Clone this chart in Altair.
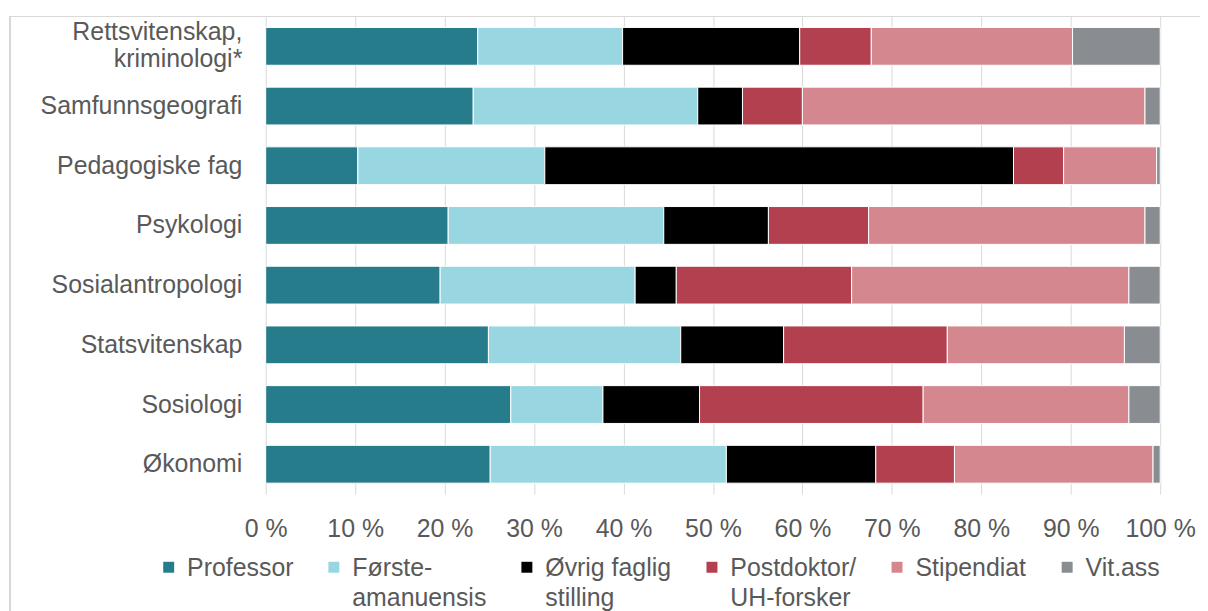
import altair as alt
import pandas as pd

categories = ["Rettsvitenskap, kriminologi*", "Samfunnsgeografi", "Pedagogiske fag", "Psykologi",
              "Sosialantropologi", "Statsvitenskap", "Sosiologi", "Økonomi"]
series = ["Professor", "Første-amanuensis", "Øvrig faglig stilling", "Postdoktor/UH-forsker",
          "Stipendiat", "Vit.ass"]
legend_lines = {
    "Første-amanuensis": ["Første-", "amanuensis"],
    "Øvrig faglig stilling": ["Øvrig faglig", "stilling"],
    "Postdoktor/UH-forsker": ["Postdoktor/", "UH-forsker"],
}
colors = ["#277C8C", "#98D7E1", "#000000", "#B2404E", "#D4878E", "#898C90"]

professor = [23.7, 23.2, 10.3, 20.4, 19.5, 24.9, 27.4, 25.1]
forste = [16.2, 25.1, 20.9, 24.1, 21.8, 21.5, 10.3, 26.4]
ovrig = [19.8, 5.0, 52.4, 11.7, 4.6, 11.5, 10.8, 16.7]
postdok = [8.0, 6.7, 5.6, 11.2, 19.6, 18.3, 25.0, 8.8]
stipendiat = [22.5, 38.3, 10.4, 30.9, 31.0, 19.8, 23.0, 22.2]
vitass = [9.8, 1.7, 0.4, 1.7, 3.5, 4.0, 3.5, 0.8]
tick_values = [0, 10, 20, 30, 40, 50, 60, 70, 80, 90, 100]

values = [professor, forste, ovrig, postdok, stipendiat, vitass]
rows = []
for si, (s, vals) in enumerate(zip(series, values)):
    for c, v in zip(categories, vals):
        rows.append({"kategori": c, "stilling": s, "andel": v, "rekkefolge": si})
df = pd.DataFrame(rows)

FONT = "Liberation Sans"
GREY = "#595959"

expr = "[datum.label, ' ']"
for k, v in legend_lines.items():
    expr = f"datum.label == '{k}' ? ['{v[0]}', '{v[1]}'] : (" + expr + ")"

bars = alt.Chart(df).mark_bar(stroke="white", strokeWidth=1).encode(
    x=alt.X("andel:Q", stack="zero",
            scale=alt.Scale(domain=[0, 100], nice=False),
            axis=alt.Axis(values=tick_values, labelExpr="datum.value + ' %'", title=None,
                          domain=False, ticks=False, grid=True, gridColor="#D9D9D9",
                          gridWidth=1, labelFont=FONT, labelFontSize=25, labelColor=GREY,
                          labelPadding=23, labelBaseline="top", labelOverlap=False,
                          labelFlush=False)),
    y=alt.Y("kategori:N", sort=categories,
            scale=alt.Scale(paddingInner=0.3667, paddingOuter=0.18335),
            axis=alt.Axis(title=None, domain=False, ticks=False, grid=False,
                          labelFont=FONT, labelFontSize=25, labelColor=GREY,
                          labelPadding=24, labelLimit=400, labelLineHeight=27,
                          labelOffset={"condition": {"test": "indexof(datum.label, ',') >= 0",
                                                     "value": -14}, "value": 0},
                          labelExpr="split(replace(datum.label, ', ', ',|'), '|')")),
    color=alt.Color("stilling:N", sort=series,
                    scale=alt.Scale(domain=series, range=colors),
                    legend=alt.Legend(title=None, orient="none", direction="horizontal",
                                      legendX=-110, legendY=530, columns=6,
                                      labelFont=FONT, labelFontSize=25, labelColor=GREY,
                                      labelBaseline="top", labelLimit=300,
                                      labelExpr=expr, labelOffset=6, columnPadding=28,
                                      symbolType="M-1,0.96H1V2.96H-1Z", symbolSize=121,
                                      symbolStrokeWidth=0, symbolOpacity=1)),
    order=alt.Order("rekkefolge:Q"),
)

frame_top = alt.Chart(df).mark_rule(color="#D9D9D9", strokeWidth=1).encode(
    x=alt.value(-257), x2=alt.value(1000), y=alt.value(0))
frame_left = alt.Chart(df).mark_rule(color="#D9D9D9", strokeWidth=1).encode(
    x=alt.value(-257), y=alt.value(0), y2=alt.value(700))

chart = alt.layer(frame_top, frame_left, bars).properties(
    width=899, height=480,
    autosize=alt.AutoSizeParams(type="none"),
    padding={"left": 259, "top": 7, "right": 40, "bottom": 125},
).configure(style={"guide-label": {"lineHeight": 30}}).configure_view(stroke=None)

chart.save("out.html", embed_options={"renderer": "svg", "actions": False})
